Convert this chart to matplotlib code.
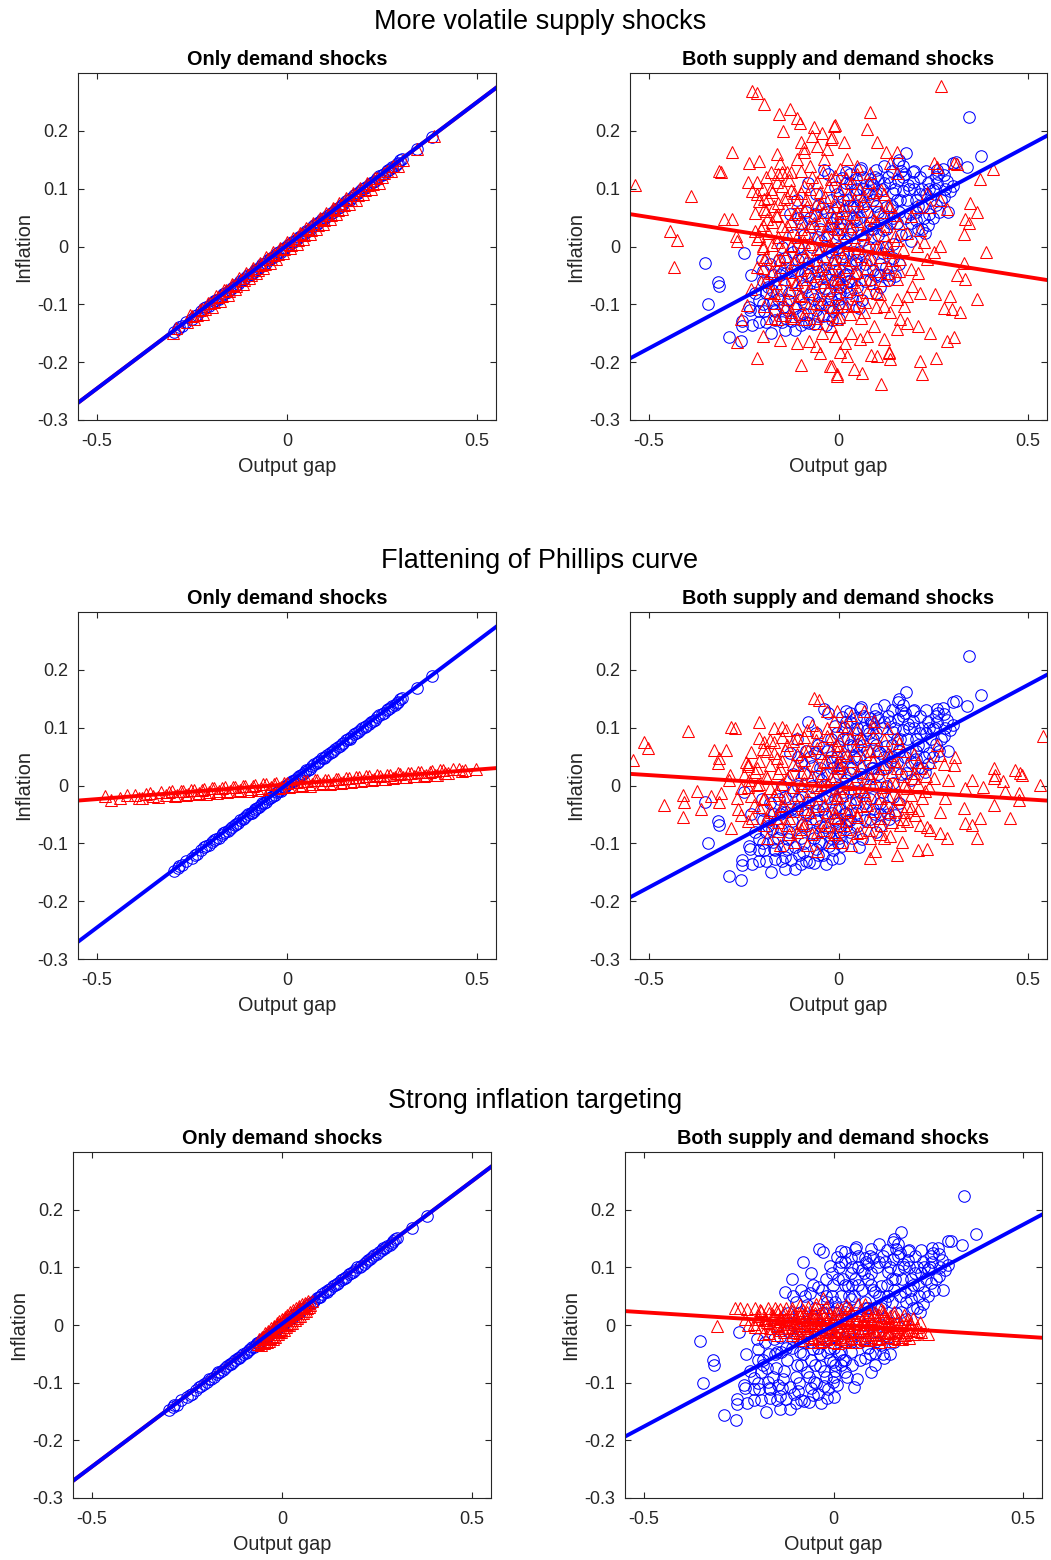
import numpy as np
import matplotlib.pyplot as plt

plt.rcParams['font.family'] = ['Liberation Sans', 'DejaVu Sans']

row_titles = ['More volatile supply shocks', 'Flattening of Phillips curve', 'Strong inflation targeting']
panel_titles = ['Only demand shocks', 'Both supply and demand shocks']
xticks = [-0.5, 0, 0.5]
yticks = [-0.3, -0.2, -0.1, 0, 0.1, 0.2]

# fitted lines (slope, intercept)
blue_line_dem = (0.495, 0.002)
blue_line_both = (0.350, -0.001)
red_lines_dem = [(0.495, 0.002), (0.051, 0.002), (0.495, 0.002)]
red_lines_both = [(-0.1036, -0.001), (-0.042, -0.003), (-0.042, 0.001)]

# baseline, demand shocks only (same in every row)
blue_dem_x = [-0.298, -0.287, -0.251, -0.243, -0.226, -0.212, -0.197, -0.186, -0.172, -0.163, -0.151, -0.138,
              -0.129, -0.117, -0.108, -0.096, -0.088, -0.079, -0.068, -0.061, -0.049, -0.041, -0.032, -0.021,
              -0.012, -0.004, 0.008, 0.017, 0.026, 0.038, 0.047, 0.055, 0.066, 0.078, 0.085, 0.097, 0.106,
              0.118, 0.127, 0.139, 0.148, 0.161, 0.169, 0.182, 0.193, 0.204, 0.215, 0.226, 0.238, 0.249,
              0.262, 0.271, 0.276, 0.289, 0.293, 0.341, 0.382]
blue_dem_y = [-0.148, -0.143, -0.125, -0.121, -0.112, -0.105, -0.098, -0.093, -0.085, -0.081, -0.075, -0.068,
              -0.064, -0.058, -0.053, -0.048, -0.044, -0.039, -0.034, -0.030, -0.024, -0.020, -0.016, -0.010,
              -0.006, -0.002, 0.004, 0.008, 0.013, 0.019, 0.023, 0.027, 0.033, 0.039, 0.042, 0.048, 0.053,
              0.058, 0.063, 0.069, 0.073, 0.080, 0.084, 0.090, 0.096, 0.101, 0.106, 0.112, 0.118, 0.123,
              0.130, 0.134, 0.137, 0.143, 0.145, 0.169, 0.189]
blue_dem_more = [
    (-0.283, -0.139), (-0.276, -0.138), (-0.265, -0.130), (-0.237, -0.119), (-0.219, -0.107), (-0.205, -0.103),
    (-0.192, -0.094), (-0.179, -0.090), (-0.168, -0.082), (-0.156, -0.078), (-0.145, -0.071), (-0.133, -0.067),
    (-0.124, -0.060), (-0.113, -0.057), (-0.103, -0.050), (-0.092, -0.047), (-0.084, -0.041), (-0.074, -0.038),
    (-0.065, -0.031), (-0.055, -0.028), (-0.045, -0.021), (-0.036, -0.019), (-0.027, -0.012), (-0.017, -0.009),
    (-0.008, -0.003), (0.003, 0.002), (0.012, 0.007), (0.022, 0.010), (0.031, 0.017), (0.042, 0.020),
    (0.051, 0.027), (0.060, 0.029), (0.071, 0.037), (0.082, 0.040), (0.091, 0.047), (0.101, 0.049),
    (0.112, 0.057), (0.122, 0.060), (0.133, 0.067), (0.144, 0.071), (0.154, 0.078), (0.165, 0.081),
    (0.176, 0.089), (0.187, 0.092), (0.198, 0.100), (0.209, 0.103), (0.220, 0.110), (0.232, 0.114),
    (0.243, 0.122), (0.255, 0.126), (0.266, 0.133), (0.283, 0.139), (0.298, 0.149), (0.303, 0.151)]

# alternative scenario, demand shocks only
red_dem1_x = [-0.301, -0.292, -0.262, -0.249, -0.238, -0.224, -0.215, -0.203, -0.191, -0.182, -0.171, -0.160,
              -0.152, -0.141, -0.133, -0.122, -0.114, -0.103, -0.095, -0.086, -0.077, -0.069, -0.058, -0.050,
              -0.041, -0.033, -0.024, -0.015, -0.007, 0.003, 0.011, 0.020, 0.029, 0.037, 0.046, 0.055, 0.063,
              0.072, 0.081, 0.090, 0.098, 0.107, 0.116, 0.124, 0.133, 0.142, 0.151, 0.159, 0.168, 0.177, 0.186,
              0.195, 0.205, 0.214, 0.226, 0.237, 0.249, 0.262, 0.273, 0.280, 0.291, 0.305, 0.343, 0.386]
red_dem1_y = [-0.149, -0.141, -0.131, -0.120, -0.119, -0.108, -0.108, -0.097, -0.096, -0.087, -0.086, -0.076,
              -0.077, -0.067, -0.068, -0.058, -0.058, -0.049, -0.049, -0.040, -0.040, -0.032, -0.030, -0.022,
              -0.022, -0.014, -0.013, -0.005, -0.005, 0.004, 0.003, 0.012, 0.012, 0.021, 0.020, 0.030, 0.029,
              0.038, 0.038, 0.047, 0.046, 0.055, 0.055, 0.064, 0.063, 0.072, 0.072, 0.081, 0.080, 0.089, 0.089,
              0.098, 0.098, 0.107, 0.108, 0.118, 0.120, 0.130, 0.131, 0.140, 0.140, 0.150, 0.168, 0.191]
red_dem1_more = [
    (-0.255, -0.118), (-0.244, -0.126), (-0.230, -0.109), (-0.220, -0.116), (-0.208, -0.097), (-0.197, -0.104),
    (-0.186, -0.086), (-0.176, -0.094), (-0.165, -0.075), (-0.155, -0.083), (-0.145, -0.065), (-0.136, -0.074),
    (-0.126, -0.055), (-0.117, -0.064), (-0.108, -0.046), (-0.099, -0.055), (-0.090, -0.037), (-0.081, -0.046),
    (-0.072, -0.028), (-0.063, -0.037), (-0.054, -0.019), (-0.045, -0.029), (-0.036, -0.010), (-0.028, -0.021),
    (-0.019, -0.002), (-0.010, -0.012), (-0.001, 0.007), (0.008, -0.003), (0.016, 0.015), (0.025, 0.005),
    (0.034, 0.024), (0.042, 0.013), (0.051, 0.032), (0.060, 0.022), (0.068, 0.041), (0.077, 0.030),
    (0.086, 0.050), (0.094, 0.039), (0.103, 0.058), (0.112, 0.047), (0.120, 0.067), (0.129, 0.056),
    (0.138, 0.075), (0.146, 0.064), (0.155, 0.084), (0.164, 0.073), (0.173, 0.092), (0.182, 0.081),
    (0.191, 0.101), (0.200, 0.090), (0.210, 0.109), (0.220, 0.099), (0.232, 0.119), (0.243, 0.110),
    (0.255, 0.127)]

red_dem2_x = [-0.478, -0.462, -0.401, -0.382, -0.370, -0.352, -0.331, -0.318, -0.302, -0.289, -0.274, -0.261,
              -0.246, -0.232, -0.219, -0.205, -0.191, -0.178, -0.164, -0.150, -0.137, -0.123, -0.110, -0.096,
              -0.083, -0.069, -0.055, -0.042, -0.028, -0.015, -0.001, 0.012, 0.026, 0.040, 0.053, 0.067, 0.080,
              0.094, 0.108, 0.121, 0.135, 0.148, 0.162, 0.176, 0.189, 0.203, 0.216, 0.230, 0.244, 0.257, 0.271,
              0.285, 0.298, 0.312, 0.326, 0.340, 0.352, 0.367, 0.382, 0.395, 0.410, 0.423, 0.452, 0.468, 0.497]
red_dem2_y = [-0.019, -0.025, -0.016, -0.021, -0.014, -0.019, -0.012, -0.017, -0.010, -0.016, -0.009, -0.014,
              -0.008, -0.013, -0.006, -0.011, -0.005, -0.010, -0.003, -0.009, -0.002, -0.007, -0.001, -0.006,
              0.001, -0.005, 0.002, -0.003, 0.004, -0.002, 0.005, -0.001, 0.006, 0.001, 0.008, 0.002, 0.009,
              0.004, 0.010, 0.005, 0.012, 0.006, 0.013, 0.008, 0.015, 0.009, 0.016, 0.011, 0.017, 0.012, 0.019,
              0.014, 0.020, 0.015, 0.022, 0.016, 0.023, 0.018, 0.025, 0.019, 0.026, 0.021, 0.028, 0.026, 0.029]
red_dem2_more = [
    (-0.440, -0.021), (-0.420, -0.017), (-0.390, -0.022), (-0.360, -0.013), (-0.340, -0.020), (-0.310, -0.011),
    (-0.295, -0.018), (-0.280, -0.010), (-0.267, -0.017), (-0.253, -0.008), (-0.239, -0.015), (-0.225, -0.007),
    (-0.212, -0.014), (-0.198, -0.005), (-0.184, -0.013), (-0.171, -0.004), (-0.157, -0.011), (-0.143, -0.003),
    (-0.130, -0.010), (-0.116, -0.001), (-0.103, -0.009), (-0.089, 0.000), (-0.076, -0.007), (-0.062, 0.002),
    (-0.048, -0.006), (-0.035, 0.003), (-0.021, -0.004), (-0.008, 0.004), (0.005, -0.003), (0.019, 0.006),
    (0.033, -0.001), (0.046, 0.007), (0.060, 0.000), (0.074, 0.009), (0.087, 0.002), (0.101, 0.010),
    (0.114, 0.003), (0.128, 0.012), (0.141, 0.005), (0.155, 0.013), (0.169, 0.006), (0.182, 0.015),
    (0.196, 0.008), (0.209, 0.016), (0.223, 0.010), (0.237, 0.018), (0.250, 0.011), (0.264, 0.019),
    (0.278, 0.013), (0.291, 0.021), (0.305, 0.014), (0.319, 0.022), (0.333, 0.016), (0.346, 0.024),
    (0.360, 0.017), (0.375, 0.024), (0.389, 0.019), (0.403, 0.027), (0.417, 0.022), (0.438, 0.029),
    (0.460, 0.025)]

red_dem3_x = [-0.063, -0.058, -0.054, -0.050, -0.046, -0.042, -0.038, -0.035, -0.031, -0.027, -0.024, -0.020,
              -0.016, -0.013, -0.009, -0.005, -0.002, 0.002, 0.005, 0.009, 0.013, 0.016, 0.020, 0.024, 0.027,
              0.031, 0.035, 0.039, 0.042, 0.046, 0.050, 0.054, 0.058, 0.062, 0.066, 0.070, 0.074, 0.078]
red_dem3_y = [-0.033, -0.027, -0.031, -0.022, -0.029, -0.016, -0.025, -0.012, -0.023, -0.008, -0.019, -0.004,
              -0.015, 0.000, -0.011, 0.004, -0.007, 0.008, -0.003, 0.011, 0.001, 0.015, 0.004, 0.019, 0.008,
              0.023, 0.012, 0.026, 0.016, 0.030, 0.020, 0.033, 0.024, 0.036, 0.029, 0.039, 0.034, 0.042]
red_dem3_more = [
    (-0.060, -0.025), (-0.056, -0.034), (-0.052, -0.020), (-0.048, -0.031), (-0.044, -0.014), (-0.040, -0.030),
    (-0.037, -0.010), (-0.033, -0.028), (-0.029, -0.005), (-0.025, -0.024), (-0.022, -0.001), (-0.018, -0.020),
    (-0.014, 0.003), (-0.011, -0.016), (-0.007, 0.007), (-0.003, -0.012), (0.000, 0.010), (0.004, -0.008),
    (0.007, 0.014), (0.011, -0.004), (0.014, 0.018), (0.018, 0.000), (0.022, 0.022), (0.025, 0.004),
    (0.029, 0.026), (0.033, 0.008), (0.037, 0.029), (0.040, 0.012), (0.044, 0.033), (0.048, 0.016),
    (0.052, 0.036), (0.056, 0.021), (0.060, 0.039), (0.064, 0.025), (0.068, 0.041), (0.072, 0.031)]

# baseline, supply and demand shocks (same in every row)
blue_both = [
    (-0.352, -0.028), (-0.318, -0.061), (-0.315, -0.069), (-0.345, -0.100), (-0.288, -0.156), (-0.257, -0.164),
    (-0.178, -0.150), (-0.249, -0.012), (-0.255, -0.128), (-0.254, -0.137), (-0.227, -0.136), (-0.234, -0.109),
    (-0.209, -0.111), (-0.196, -0.111), (-0.168, -0.111), (-0.140, -0.123), (-0.124, -0.128), (-0.115, -0.145),
    (-0.077, -0.132), (-0.064, -0.134), (-0.033, -0.135), (-0.128, 0.057), (-0.108, 0.050), (-0.086, 0.060),
    (-0.062, 0.056), (-0.038, 0.132), (-0.027, 0.126), (-0.008, 0.103), (-0.019, 0.080), (-0.041, 0.066),
    (-0.001, 0.069), (-0.201, -0.024), (-0.198, -0.042), (-0.185, -0.061), (-0.192, -0.081), (-0.174, -0.098),
    (-0.152, -0.075), (-0.132, -0.093), (-0.115, -0.107), (-0.139, -0.046), (-0.122, -0.061), (-0.096, -0.069),
    (-0.071, -0.082), (-0.052, -0.098), (-0.025, -0.105), (-0.014, -0.111), (-0.080, -0.029), (-0.053, -0.042),
    (-0.018, -0.047), (-0.001, -0.065), (-0.036, -0.071), (-0.010, -0.024), (-0.158, -0.024), (-0.106, -0.024),
    (-0.088, -0.046), (-0.146, -0.104), (-0.168, -0.127), (-0.093, -0.115), (-0.053, -0.121), (-0.018, -0.127),
    (-0.071, 0.034), (-0.018, 0.040), (-0.053, 0.016), (-0.001, 0.022), (-0.032, 0.000), (-0.106, 0.000),
    (-0.150, -0.046), (-0.176, -0.075), (-0.211, -0.092), (-0.237, -0.104), (0.343, 0.224), (0.375, 0.157),
    (0.339, 0.138), (0.302, 0.145), (0.309, 0.146), (0.177, 0.162), (0.157, 0.144), (0.166, 0.131),
    (0.175, 0.125), (0.197, 0.129), (0.197, 0.112), (0.183, 0.106), (0.098, 0.132), (0.104, 0.116),
    (0.082, 0.116), (0.065, 0.120), (0.047, 0.116), (0.030, 0.126), (0.021, 0.129), (0.008, 0.118),
    (0.260, 0.133), (0.262, 0.125), (0.277, 0.123), (0.286, 0.113), (0.303, 0.104), (0.295, 0.096),
    (0.277, 0.085), (0.258, 0.072), (0.289, 0.060), (0.249, 0.097), (0.230, 0.090), (0.221, 0.100),
    (0.236, 0.037), (0.227, 0.023), (0.210, 0.030), (0.148, -0.051), (0.133, -0.058), (0.098, -0.081),
    (0.063, -0.093), (0.054, -0.107), (0.008, -0.104), (-0.001, -0.099), (0.030, -0.081), (0.126, -0.035),
    (0.109, -0.049), (0.082, -0.058), (0.047, -0.047), (0.021, -0.070), (0.170, 0.096), (0.161, 0.080),
    (0.144, 0.092), (0.126, 0.068), (0.109, 0.057), (0.091, 0.080), (0.074, 0.096), (0.056, 0.080),
    (0.039, 0.068), (0.012, 0.080), (0.047, 0.045), (0.082, 0.040), (0.118, 0.028), (0.153, 0.040),
    (0.188, 0.057), (0.205, 0.045), (0.179, 0.022), (0.144, 0.005), (0.100, -0.001), (0.065, 0.011),
    (0.030, 0.022), (0.012, -0.012), (0.047, -0.024), (0.082, -0.024), (0.118, -0.012), (0.021, -0.047),
    (0.004, -0.070), (0.223, 0.069), (0.240, 0.057), (0.030, 0.109), (0.056, 0.132), (0.091, 0.106),
    (0.135, 0.109), (0.157, 0.115), (0.205, 0.080), (0.258, 0.120), (0.276, 0.134), (-0.120, 0.020),
    (-0.150, 0.000), (-0.200, -0.060), (-0.220, -0.080), (-0.100, -0.090), (-0.060, -0.060), (-0.030, -0.020),
    (0.000, 0.000), (-0.050, 0.030), (-0.090, 0.020), (0.020, 0.050), (0.050, 0.070), (0.030, -0.030),
    (-0.020, 0.050), (0.100, 0.070)]
blue_both_more = [
    (-0.18, -0.03), (-0.16, -0.09), (-0.14, -0.02), (-0.13, -0.08), (-0.11, -0.04), (-0.10, 0.04),
    (-0.09, -0.10), (-0.08, -0.05), (-0.07, 0.00), (-0.06, -0.11), (-0.05, -0.07), (-0.045, 0.01),
    (-0.04, -0.04), (-0.03, 0.06), (-0.025, -0.08), (-0.02, -0.01), (-0.015, 0.03), (-0.01, -0.06),
    (-0.005, 0.09), (0.0, -0.04), (0.005, 0.04), (0.01, -0.02), (0.015, 0.10), (0.02, 0.01),
    (0.025, -0.06), (0.03, 0.07), (0.035, 0.03), (0.04, -0.01), (0.045, 0.09), (0.05, -0.07),
    (0.055, 0.05), (0.06, 0.02), (0.065, 0.10), (0.07, -0.03), (0.075, 0.06), (0.08, 0.00),
    (0.085, 0.11), (0.09, 0.03), (0.095, -0.05), (0.10, 0.09), (0.105, 0.02), (0.11, -0.03),
    (0.115, 0.10), (0.12, 0.05), (0.125, 0.00), (0.13, 0.12), (0.135, 0.04), (0.14, 0.07),
    (0.145, -0.02), (0.15, 0.10), (0.16, 0.06), (0.165, 0.02), (0.17, 0.12), (0.18, 0.08),
    (0.19, 0.04), (0.20, 0.10), (0.21, 0.07), (0.215, 0.12), (0.225, 0.05), (0.235, 0.11),
    (0.245, 0.08), (0.255, 0.10), (0.265, 0.06), (-0.19, -0.13), (-0.17, -0.05), (-0.15, -0.13),
    (-0.12, -0.01), (-0.085, -0.13), (-0.075, 0.05), (-0.04, -0.12), (-0.055, 0.07), (0.0, -0.09),
    (0.02, 0.11), (0.035, -0.09), (-0.11, 0.08), (0.06, 0.135), (0.12, 0.14), (0.16, 0.15),
    (-0.08, 0.11), (-0.23, -0.05), (-0.17, -0.11), (-0.155, -0.05), (-0.135, -0.11), (-0.125, -0.04),
    (-0.105, -0.12), (-0.095, -0.02), (-0.085, -0.07), (-0.065, -0.09), (-0.06, -0.03), (-0.045, -0.10),
    (-0.035, -0.05), (-0.03, 0.02), (-0.02, -0.09), (-0.01, -0.04), (-0.005, 0.05), (0.005, -0.08),
    (0.01, 0.03), (0.015, -0.05), (0.025, 0.08), (0.03, -0.06), (0.04, 0.05), (0.045, -0.03),
    (0.05, 0.10), (0.055, -0.01), (0.065, 0.07), (0.07, -0.06), (0.08, 0.09), (0.085, 0.03),
    (0.09, -0.04), (0.095, 0.12), (0.105, 0.06), (0.11, -0.07), (0.12, 0.11), (0.125, 0.03),
    (0.13, -0.05), (0.14, 0.13), (0.145, 0.05), (0.155, 0.08), (0.16, -0.03), (0.17, 0.14),
    (0.175, 0.05), (0.185, 0.10), (0.19, 0.01), (0.20, 0.13), (0.205, 0.06), (0.215, 0.09),
    (0.22, 0.03), (0.23, 0.13), (0.24, 0.10), (0.25, 0.05), (0.26, 0.11), (0.27, 0.08),
    (0.28, 0.10), (-0.20, -0.10), (-0.21, -0.13), (-0.185, -0.07), (-0.14, -0.145), (-0.10, -0.135),
    (0.0, -0.125), (-0.06, 0.09)]

# alternative scenario, supply and demand shocks
red_both1 = [
    (-0.227, 0.269), (-0.216, 0.265), (-0.197, 0.247), (-0.157, 0.229), (-0.128, 0.238), (-0.110, 0.223),
    (-0.101, 0.214), (-0.146, 0.200), (-0.065, 0.206), (-0.043, 0.197), (-0.069, 0.191), (-0.280, 0.164),
    (-0.236, 0.145), (-0.209, 0.148), (-0.316, 0.130), (-0.310, 0.128), (-0.537, 0.106), (-0.389, 0.088),
    (-0.240, 0.112), (-0.227, 0.096), (-0.214, 0.090), (-0.444, 0.027), (-0.426, 0.012), (-0.302, 0.047),
    (-0.280, 0.047), (-0.271, 0.018), (-0.268, 0.010), (-0.435, -0.036), (-0.219, 0.027), (-0.215, 0.013),
    (-0.215, -0.036), (-0.242, -0.102), (-0.258, -0.126), (-0.268, -0.165), (-0.198, -0.155), (-0.214, -0.192),
    (-0.179, -0.123), (-0.100, -0.205), (-0.049, -0.184), (-0.023, -0.207), (-0.003, -0.221), (-0.077, -0.163),
    (-0.010, -0.155), (-0.126, -0.120), (-0.043, -0.149), (-0.060, -0.172), (-0.163, 0.160), (-0.179, 0.128),
    (-0.148, 0.128), (-0.126, 0.128), (-0.100, 0.180), (-0.091, 0.171), (-0.012, 0.209), (-0.021, 0.186),
    (-0.030, 0.169), (0.271, 0.277), (0.083, 0.232), (-0.008, 0.210), (0.074, 0.204), (0.014, 0.180),
    (-0.017, 0.189), (0.102, 0.180), (0.124, 0.163), (0.154, 0.163), (0.407, 0.134), (0.372, 0.117),
    (0.251, 0.145), (0.260, 0.137), (0.304, 0.145), (0.312, 0.143), (0.347, 0.076), (0.365, 0.059),
    (0.334, 0.047), (0.343, 0.041), (0.330, 0.021), (0.389, -0.010), (0.330, -0.028), (0.312, -0.050),
    (0.334, -0.056), (0.365, -0.091), (0.293, -0.085), (0.277, -0.106), (0.299, -0.108), (0.321, -0.114),
    (0.255, -0.082), (0.242, -0.149), (0.286, -0.163), (0.304, -0.157), (0.258, -0.192), (0.216, -0.198),
    (0.220, -0.221), (0.111, -0.238), (0.040, -0.212), (0.062, -0.218), (-0.004, -0.224), (0.137, -0.195),
    (0.132, -0.184), (0.102, -0.190), (0.085, -0.187), (0.211, -0.137), (0.181, -0.132), (0.163, -0.126),
    (0.251, -0.010), (0.268, 0.001), (0.233, -0.022), (0.207, 0.001), (0.225, 0.007), (0.190, -0.039),
    (0.211, -0.045), (0.194, -0.068), (0.216, -0.080), (0.181, -0.086), (0.154, -0.091), (0.172, -0.103),
    (0.137, -0.114), (0.119, -0.103), (0.093, -0.137), (0.075, -0.155), (0.058, -0.160), (0.032, -0.149),
    (0.018, -0.166), (0.005, -0.183), (0.023, -0.189), (-0.008, -0.155), (-0.017, -0.207), (0.133, -0.183),
    (0.119, -0.160), (0.154, -0.143), (0.102, -0.080), (0.067, -0.114), (0.040, -0.103), (0.049, -0.074),
    (0.084, -0.057), (0.128, -0.045), (0.154, -0.057), (0.163, -0.022), (0.137, -0.010), (0.111, 0.001),
    (0.154, 0.012), (0.181, 0.024), (0.216, 0.029), (0.190, 0.052), (0.207, 0.069), (0.242, 0.069),
    (0.233, 0.093), (0.268, 0.081), (0.286, 0.064), (0.137, 0.069), (0.111, 0.098), (0.084, 0.127),
    (0.049, 0.139), (0.023, 0.151), (0.005, 0.134), (0.032, 0.110), (0.067, 0.087), (0.154, 0.127),
    (0.137, 0.145), (0.093, 0.046), (0.067, 0.024), (0.032, 0.035), (0.005, 0.058), (0.075, -0.022),
    (0.040, -0.045), (0.014, -0.022), (-0.003, -0.068), (0.023, -0.103), (-0.003, -0.126), (-0.170, 0.070),
    (-0.196, 0.065), (-0.161, 0.053), (-0.188, 0.047), (-0.144, 0.082), (-0.118, 0.093), (-0.091, 0.105),
    (-0.056, 0.111), (-0.021, 0.116), (-0.074, 0.140), (-0.038, 0.151), (-0.109, 0.059), (-0.082, 0.070),
    (-0.047, 0.076), (-0.012, 0.070), (-0.135, 0.036), (-0.100, 0.030), (-0.065, 0.041), (-0.030, 0.036),
    (-0.004, 0.030), (-0.161, 0.007), (-0.126, 0.001), (-0.091, 0.007), (-0.056, -0.005), (-0.021, 0.001),
    (-0.153, -0.022), (-0.118, -0.028), (-0.082, -0.022), (-0.047, -0.034), (-0.012, -0.028), (-0.179, -0.045),
    (-0.144, -0.057), (-0.109, -0.062), (-0.074, -0.051), (-0.038, -0.062), (-0.004, -0.057), (-0.170, -0.080),
    (-0.135, -0.091), (-0.100, -0.086), (-0.065, -0.097), (-0.030, -0.091), (-0.004, -0.103), (-0.126, -0.114),
    (-0.091, -0.126), (-0.056, -0.132), (-0.021, -0.138), (-0.205, 0.030), (-0.200, 0.001), (-0.196, -0.022),
    (-0.205, -0.062), (-0.232, -0.074), (-0.196, -0.103), (-0.161, -0.126), (-0.153, -0.161), (-0.109, -0.167),
    (-0.161, 0.111), (-0.135, 0.128), (-0.109, 0.151), (-0.091, 0.163), (-0.056, 0.174), (-0.153, 0.145),
    (-0.179, 0.099), (-0.214, 0.111), (-0.196, 0.082)]
red_both1_core = [
    (-0.19, 0.12), (-0.16, 0.125), (-0.13, 0.115), (-0.10, 0.13), (-0.07, 0.12), (-0.04, 0.128), (-0.01, 0.122),
    (0.02, 0.118), (0.05, 0.125), (0.08, 0.112), (-0.20, 0.10), (-0.175, 0.095), (-0.15, 0.105), (-0.125, 0.098),
    (-0.10, 0.092), (-0.075, 0.10), (-0.05, 0.094), (-0.025, 0.104), (0.0, 0.097), (0.025, 0.09), (0.055, 0.10),
    (0.09, 0.095), (0.12, 0.09), (-0.21, 0.078), (-0.185, 0.083), (-0.16, 0.075), (-0.135, 0.085), (-0.11, 0.077),
    (-0.085, 0.082), (-0.06, 0.074), (-0.035, 0.086), (-0.01, 0.079), (0.015, 0.072), (0.04, 0.081), (0.065, 0.075),
    (0.10, 0.08), (0.13, 0.072), (-0.22, 0.058), (-0.19, 0.062), (-0.165, 0.055), (-0.14, 0.064), (-0.115, 0.057),
    (-0.09, 0.063), (-0.065, 0.054), (-0.04, 0.06), (-0.015, 0.052), (0.01, 0.063), (0.035, 0.056), (0.06, 0.061),
    (0.085, 0.053), (0.115, 0.06), (0.15, 0.055), (-0.20, 0.038), (-0.175, 0.043), (-0.15, 0.036), (-0.125, 0.044),
    (-0.10, 0.04), (-0.075, 0.035), (-0.05, 0.045), (-0.025, 0.038), (0.0, 0.043), (0.025, 0.036), (0.05, 0.044),
    (0.075, 0.037), (0.10, 0.042), (0.125, 0.035), (0.16, 0.04), (-0.21, 0.018), (-0.185, 0.023), (-0.16, 0.016),
    (-0.135, 0.022), (-0.11, 0.017), (-0.085, 0.024), (-0.06, 0.015), (-0.035, 0.021), (-0.01, 0.016),
    (0.015, 0.023), (0.04, 0.017), (0.065, 0.022), (0.09, 0.015), (0.12, 0.02), (0.15, 0.018), (-0.20, -0.002),
    (-0.175, 0.003), (-0.15, -0.004), (-0.125, 0.002), (-0.10, -0.003), (-0.075, 0.004), (-0.05, -0.002),
    (-0.025, 0.003), (0.0, -0.004), (0.025, 0.002), (0.05, -0.003), (0.075, 0.004), (0.10, -0.002), (0.13, 0.003),
    (0.17, -0.004), (-0.19, -0.018), (-0.165, -0.023), (-0.14, -0.016), (-0.115, -0.022), (-0.09, -0.017),
    (-0.065, -0.024), (-0.04, -0.016), (-0.015, -0.021), (0.01, -0.017), (0.035, -0.023), (0.06, -0.016),
    (0.085, -0.022), (0.11, -0.018), (0.14, -0.024), (-0.20, -0.038), (-0.175, -0.043), (-0.15, -0.036),
    (-0.125, -0.044), (-0.10, -0.04), (-0.075, -0.035), (-0.05, -0.045), (-0.025, -0.038), (0.0, -0.043),
    (0.025, -0.036), (0.05, -0.044), (0.075, -0.037), (0.10, -0.042), (0.13, -0.036), (0.16, -0.042),
    (-0.19, -0.058), (-0.165, -0.063), (-0.14, -0.056), (-0.115, -0.064), (-0.09, -0.057), (-0.065, -0.063),
    (-0.04, -0.055), (-0.015, -0.061), (0.01, -0.054), (0.035, -0.062), (0.06, -0.056), (0.09, -0.063),
    (0.12, -0.058), (-0.18, -0.078), (-0.155, -0.083), (-0.13, -0.076), (-0.105, -0.084), (-0.08, -0.077),
    (-0.055, -0.083), (-0.03, -0.075), (-0.005, -0.082), (0.02, -0.077), (0.045, -0.084), (0.075, -0.078),
    (0.11, -0.082), (-0.17, -0.098), (-0.14, -0.104), (-0.11, -0.097), (-0.08, -0.105), (-0.05, -0.099),
    (-0.02, -0.104), (0.01, -0.097), (0.04, -0.102), (0.07, -0.096), (0.10, -0.104), (-0.15, -0.118),
    (-0.12, -0.124), (-0.09, -0.117), (-0.06, -0.123), (-0.03, -0.118), (0.0, -0.122), (0.03, -0.117),
    (0.06, -0.124)]

red_both2 = [
    (-0.543, 0.044), (-0.512, 0.076), (-0.503, 0.065), (-0.398, 0.094), (-0.460, -0.033), (-0.411, -0.054),
    (-0.409, -0.016), (-0.407, -0.029), (-0.373, -0.010), (-0.363, -0.040), (-0.337, -0.019), (-0.328, 0.062),
    (-0.315, 0.047), (-0.297, 0.062), (-0.317, 0.039), (-0.284, 0.102), (-0.274, 0.099), (-0.284, -0.074),
    (-0.315, -0.028), (-0.310, -0.013), (-0.286, 0.018), (-0.288, 0.010), (-0.258, -0.005), (-0.267, -0.022),
    (-0.265, -0.040), (-0.245, 0.041), (-0.240, 0.033), (-0.227, -0.057), (-0.210, 0.110), (-0.170, 0.099),
    (-0.139, 0.096), (-0.065, 0.151), (-0.052, 0.148), (-0.082, 0.096), (-0.056, 0.093), (-0.196, 0.076),
    (-0.188, 0.059), (-0.161, 0.047), (-0.135, 0.070), (-0.109, 0.082), (-0.091, 0.059), (-0.056, 0.065),
    (-0.021, 0.082), (-0.012, 0.111), (-0.030, 0.128), (-0.214, 0.030), (-0.188, 0.013), (-0.214, 0.001),
    (-0.196, -0.022), (-0.223, -0.033), (-0.179, -0.045), (-0.196, -0.068), (-0.188, -0.091), (-0.153, -0.103),
    (-0.118, -0.097), (-0.109, -0.080), (-0.135, -0.068), (-0.161, -0.057), (-0.144, -0.033), (-0.161, -0.010),
    (-0.135, 0.013), (-0.153, 0.030), (-0.109, 0.036), (-0.082, 0.024), (-0.100, 0.001), (-0.074, -0.010),
    (-0.109, -0.033), (-0.074, -0.045), (-0.091, -0.068), (-0.056, -0.080), (-0.056, -0.114), (-0.082, -0.103),
    (-0.021, -0.097), (-0.030, -0.068), (-0.038, -0.033), (-0.012, -0.045), (-0.047, 0.001), (-0.021, 0.013),
    (-0.038, 0.041), (-0.004, 0.036), (-0.004, 0.059), (-0.004, -0.016), (-0.258, -0.051), (-0.240, -0.062),
    (-0.236, 0.010), (-0.170, 0.076), (0.539, 0.085), (0.532, 0.001), (0.453, -0.057), (0.466, 0.027),
    (0.479, 0.021), (0.483, 0.018), (0.475, -0.013), (0.477, -0.025), (0.409, 0.030), (0.413, 0.018),
    (0.409, 0.013), (0.435, 0.007), (0.439, -0.010), (0.409, -0.033), (0.382, -0.002), (0.374, -0.057),
    (0.365, -0.091), (0.352, -0.068), (0.334, -0.065), (0.330, -0.039), (0.334, -0.005), (0.352, 0.010),
    (0.308, 0.050), (0.304, 0.036), (0.277, 0.038), (0.290, 0.010), (0.282, -0.022), (0.268, -0.045),
    (0.286, -0.091), (0.268, -0.082), (0.242, -0.077), (0.233, -0.071), (0.233, -0.109), (0.211, -0.112),
    (0.190, -0.039), (0.181, -0.062), (0.163, -0.068), (0.154, -0.120), (0.168, -0.097), (0.097, -0.114),
    (0.084, -0.126), (0.119, -0.091), (0.137, -0.088), (0.172, -0.045), (0.203, -0.051), (0.216, -0.068),
    (0.260, 0.070), (0.242, 0.041), (0.251, 0.013), (0.229, -0.010), (0.268, 0.053), (0.198, 0.013),
    (0.216, 0.030), (0.172, 0.001), (0.154, -0.022), (0.137, -0.045), (0.111, -0.068), (0.084, -0.091),
    (0.058, -0.080), (0.032, -0.103), (0.005, -0.097), (0.014, -0.068), (0.049, -0.051), (0.075, -0.033),
    (0.111, -0.022), (0.137, 0.001), (0.154, 0.030), (0.137, 0.053), (0.154, 0.082), (0.128, 0.099),
    (0.093, 0.111), (0.067, 0.128), (0.032, 0.122), (-0.003, 0.128), (0.023, 0.099), (0.058, 0.082),
    (0.084, 0.059), (0.111, 0.030), (0.084, 0.013), (0.049, 0.024), (0.023, 0.053), (-0.003, 0.070),
    (0.005, 0.030), (0.032, -0.005), (0.067, -0.010), (-0.003, -0.022), (0.023, -0.045), (-0.003, -0.057),
    (-0.012, -0.080)]
red_both2_core = [
    (-0.15, 0.102), (-0.11, 0.098), (-0.07, 0.105), (-0.03, 0.099), (0.01, 0.103), (0.05, 0.097), (0.09, 0.101),
    (-0.21, 0.082), (-0.18, 0.078), (-0.15, 0.084), (-0.12, 0.077), (-0.09, 0.083), (-0.06, 0.079), (-0.03, 0.085),
    (0.0, 0.078), (0.03, 0.082), (0.06, 0.077), (0.09, 0.083), (0.12, 0.079), (0.16, 0.074), (-0.23, 0.058),
    (-0.20, 0.063), (-0.17, 0.056), (-0.14, 0.061), (-0.11, 0.055), (-0.08, 0.062), (-0.05, 0.057), (-0.02, 0.063),
    (0.01, 0.056), (0.04, 0.061), (0.07, 0.055), (0.10, 0.062), (0.13, 0.057), (0.17, 0.06), (0.20, 0.055),
    (-0.24, 0.038), (-0.21, 0.043), (-0.18, 0.036), (-0.15, 0.042), (-0.12, 0.037), (-0.09, 0.044), (-0.06, 0.036),
    (-0.03, 0.042), (0.0, 0.037), (0.03, 0.043), (0.06, 0.036), (0.09, 0.042), (0.12, 0.037), (0.15, 0.043),
    (0.18, 0.036), (0.21, 0.04), (-0.25, 0.018), (-0.22, 0.023), (-0.19, 0.016), (-0.16, 0.022), (-0.13, 0.017),
    (-0.10, 0.024), (-0.07, 0.016), (-0.04, 0.021), (-0.01, 0.017), (0.02, 0.023), (0.05, 0.016), (0.08, 0.022),
    (0.11, 0.017), (0.14, 0.023), (0.17, 0.016), (0.20, 0.021), (0.23, 0.017), (-0.24, -0.003), (-0.21, 0.003),
    (-0.18, -0.004), (-0.15, 0.002), (-0.12, -0.003), (-0.09, 0.004), (-0.06, -0.002), (-0.03, 0.003),
    (0.0, -0.004), (0.03, 0.002), (0.06, -0.003), (0.09, 0.004), (0.12, -0.002), (0.15, 0.003), (0.18, -0.004),
    (0.21, 0.002), (0.24, -0.003), (-0.23, -0.018), (-0.20, -0.023), (-0.17, -0.016), (-0.14, -0.022),
    (-0.11, -0.017), (-0.08, -0.024), (-0.05, -0.016), (-0.02, -0.021), (0.01, -0.017), (0.04, -0.023),
    (0.07, -0.016), (0.10, -0.022), (0.13, -0.018), (0.16, -0.024), (0.19, -0.017), (0.22, -0.022),
    (-0.21, -0.038), (-0.18, -0.043), (-0.15, -0.036), (-0.12, -0.044), (-0.09, -0.04), (-0.06, -0.035),
    (-0.03, -0.045), (0.0, -0.038), (0.03, -0.043), (0.06, -0.036), (0.09, -0.044), (0.12, -0.037),
    (0.15, -0.042), (0.18, -0.036), (0.21, -0.043), (-0.19, -0.058), (-0.16, -0.063), (-0.13, -0.056),
    (-0.10, -0.064), (-0.07, -0.057), (-0.04, -0.063), (-0.01, -0.055), (0.02, -0.061), (0.05, -0.054),
    (0.08, -0.062), (0.11, -0.056), (0.14, -0.063), (0.17, -0.058), (-0.16, -0.078), (-0.13, -0.083),
    (-0.10, -0.076), (-0.07, -0.084), (-0.04, -0.077), (-0.01, -0.083), (0.02, -0.075), (0.05, -0.082),
    (0.08, -0.077), (0.11, -0.084)]

red_both3 = [
    (-0.308, -0.002), (-0.259, 0.029), (-0.246, 0.029), (-0.229, 0.028), (-0.207, 0.029), (-0.194, 0.026),
    (-0.172, 0.029), (-0.154, 0.029), (-0.225, 0.000), (-0.207, -0.003), (-0.185, -0.015), (-0.168, -0.006),
    (-0.234, 0.011), (-0.027, 0.046), (-0.088, 0.034), (-0.066, 0.031), (-0.141, 0.014), (-0.124, 0.011),
    (-0.106, 0.005), (-0.088, 0.000), (-0.071, -0.012), (-0.053, -0.024), (-0.036, -0.029), (-0.019, -0.024),
    (-0.001, -0.015), (-0.132, -0.006), (-0.106, -0.012), (-0.150, 0.000), (-0.106, 0.017), (-0.053, 0.017),
    (-0.019, 0.023), (-0.001, 0.011), (-0.036, 0.011), (-0.071, 0.011), (-0.019, 0.005), (-0.053, 0.000),
    (-0.010, -0.003), (-0.176, 0.005), (-0.159, 0.014), (-0.124, 0.029), (-0.045, 0.037), (-0.088, 0.017),
    (0.065, 0.037), (0.126, 0.028), (0.186, 0.017), (0.227, 0.005), (0.249, -0.015), (0.214, -0.015),
    (0.188, -0.018), (0.170, -0.024), (0.205, 0.002), (0.153, 0.000), (0.100, 0.011), (0.047, 0.022),
    (0.021, 0.028), (0.012, 0.011), (0.039, 0.000), (0.074, -0.006), (0.109, -0.015), (0.144, -0.012),
    (0.021, -0.024), (0.047, -0.029), (0.082, -0.026), (0.118, -0.024), (0.012, -0.032), (0.091, 0.022),
    (0.135, 0.014), (0.170, 0.011), (0.034, 0.034), (0.082, 0.037), (0.109, 0.022), (0.197, 0.011),
    (0.232, -0.012), (0.047, -0.012), (0.004, -0.012)]
red_both3_core = [
    (-0.14, 0.027), (-0.11, 0.030), (-0.08, 0.026), (-0.05, 0.029), (-0.02, 0.031), (0.01, 0.027), (0.04, 0.030),
    (0.07, 0.026), (0.10, 0.029), (0.13, 0.025), (0.16, 0.022), (-0.20, 0.016), (-0.18, 0.013), (-0.16, 0.017),
    (-0.14, 0.012), (-0.12, 0.016), (-0.10, 0.013), (-0.08, 0.018), (-0.06, 0.014), (-0.04, 0.017), (-0.02, 0.012),
    (0.0, 0.016), (0.02, 0.013), (0.04, 0.018), (0.06, 0.012), (0.08, 0.016), (0.10, 0.013), (0.12, 0.017),
    (0.14, 0.012), (0.16, 0.015), (0.18, 0.011), (0.21, 0.013), (-0.21, 0.002), (-0.19, -0.003), (-0.17, 0.003),
    (-0.15, -0.002), (-0.13, 0.002), (-0.11, -0.004), (-0.09, 0.003), (-0.07, -0.002), (-0.05, 0.004),
    (-0.03, -0.003), (-0.01, 0.002), (0.01, -0.002), (0.03, 0.003), (0.05, -0.004), (0.07, 0.002), (0.09, -0.003),
    (0.11, 0.003), (0.13, -0.002), (0.15, 0.002), (0.17, -0.004), (0.19, 0.001), (0.22, -0.003), (-0.17, -0.014),
    (-0.15, -0.017), (-0.13, -0.013), (-0.11, -0.018), (-0.09, -0.014), (-0.07, -0.017), (-0.05, -0.012),
    (-0.03, -0.018), (-0.01, -0.013), (0.01, -0.017), (0.03, -0.014), (0.05, -0.018), (0.07, -0.013),
    (0.09, -0.017), (0.11, -0.012), (0.13, -0.018), (0.15, -0.014), (0.17, -0.017), (0.19, -0.013),
    (0.21, -0.016), (-0.09, -0.026), (-0.06, -0.029), (-0.03, -0.027), (0.0, -0.030), (0.03, -0.027),
    (0.06, -0.030), (0.09, -0.026), (0.12, -0.029), (0.15, -0.027), (0.18, -0.025),
    (-0.19, 0.024), (-0.17, 0.021), (-0.15, 0.025), (-0.13, 0.022), (-0.11, 0.024), (-0.09, 0.021),
    (-0.07, 0.023), (-0.05, 0.020), (-0.03, 0.022), (-0.01, 0.019), (0.01, 0.021), (0.03, 0.018),
    (0.05, 0.020), (0.07, 0.017), (0.09, 0.019), (0.11, 0.016), (0.13, 0.018), (0.15, 0.015),
    (-0.20, 0.010), (-0.18, 0.008), (-0.16, 0.011), (-0.14, 0.007), (-0.12, 0.009), (-0.10, 0.006),
    (-0.08, 0.009), (-0.06, 0.006), (-0.04, 0.008), (-0.02, 0.005), (0.0, 0.007), (0.02, 0.004),
    (0.04, 0.006), (0.06, 0.003), (0.08, 0.005), (0.10, 0.002), (0.12, 0.004), (0.14, 0.001),
    (0.16, 0.003), (0.18, 0.000), (0.20, 0.002), (-0.16, -0.006), (-0.14, -0.008), (-0.12, -0.005),
    (-0.10, -0.009), (-0.08, -0.006), (-0.06, -0.009), (-0.04, -0.007), (-0.02, -0.010), (0.0, -0.008),
    (0.02, -0.011), (0.04, -0.008), (0.06, -0.011), (0.08, -0.009), (0.10, -0.012), (0.12, -0.009),
    (0.14, -0.012), (0.16, -0.010), (0.18, -0.012), (0.20, -0.009), (0.22, -0.011), (-0.06, -0.021),
    (-0.04, -0.023), (-0.02, -0.020), (0.0, -0.023), (0.02, -0.021), (0.04, -0.024), (0.06, -0.022),
    (0.08, -0.024), (0.10, -0.021), (0.12, -0.023), (0.14, -0.021), (0.16, -0.023), (0.18, -0.020),
    (0.20, -0.022)]

red_dem = [(red_dem1_x, red_dem1_y, red_dem1_more), (red_dem2_x, red_dem2_y, red_dem2_more),
           (red_dem3_x, red_dem3_y, red_dem3_more)]
red_both = [red_both1 + red_both1_core, red_both2 + red_both2_core, red_both3 + red_both3_core]

# axes rectangles in pixels (left, top, right, bottom)
W, H = 1051, 1560
boxes = [[(78, 73, 496, 420), (630, 73, 1047, 420)],
         [(78, 612, 496, 959), (630, 612, 1047, 959)],
         [(73, 1152, 491, 1498), (625, 1152, 1042, 1498)]]
row_title_pos = [(540, 22), (540, 561), (535, 1101)]

fig = plt.figure(figsize=(W / 100, H / 100), dpi=100)
dark = '#262626'
ms = 8.3


def setup(ax, title):
    ax.set_xlim(-0.55, 0.55)
    ax.set_ylim(-0.3, 0.3)
    ax.set_xticks(xticks)
    ax.set_xticklabels(['-0.5', '0', '0.5'])
    ax.set_yticks(yticks)
    ax.set_yticklabels(['-0.3', '-0.2', '-0.1', '0', '0.1', '0.2'])
    ax.tick_params(direction='in', length=4, width=0.8, top=True, right=True,
                   labelsize=13, colors=dark)
    ax.tick_params(axis='x', pad=9.5)
    ax.tick_params(axis='y', pad=7)
    for s in ax.spines.values():
        s.set_color(dark)
        s.set_linewidth(0.8)
    ax.set_xlabel('Output gap', fontsize=14.3, color=dark, labelpad=5)
    ax.set_ylabel('Inflation', fontsize=14.3, color=dark, labelpad=3)
    ax.set_title(title, fontsize=14.3, fontweight='bold', pad=6)


for r in range(3):
    for c in range(2):
        l, t, rr, b = boxes[r][c]
        ax = fig.add_axes([l / W, 1 - b / H, (rr - l) / W, (b - t) / H])
        if c == 0:
            mx, my = np.array(blue_dem_more).T
            bx = list(blue_dem_x) + list(mx)
            by = list(blue_dem_y) + list(my)
            rx0, ry0, rmore = red_dem[r]
            mx, my = np.array(rmore).T
            rx = list(rx0) + list(mx)
            ry = list(ry0) + list(my)
            bl, rl = blue_line_dem, red_lines_dem[r]
        else:
            bx, by = np.array(blue_both + blue_both_more).T
            rx, ry = np.array(red_both[r]).T
            bl, rl = blue_line_both, red_lines_both[r]
        ax.plot(bx, by, 'o', ms=ms, mfc='none', mec='blue', mew=0.75)
        ax.plot(rx, ry, '^', ms=ms, mfc='none', mec='red', mew=0.75)
        ax.axline((0, rl[1]), slope=rl[0], color='red', lw=2.8)
        ax.axline((0, bl[1]), slope=bl[0], color='blue', lw=2.8)
        setup(ax, panel_titles[c])
    x, y = row_title_pos[r]
    fig.text(x / W, 1 - y / H, row_titles[r], ha='center', va='center', fontsize=19.5)

fig.savefig('out.png', dpi=100)
